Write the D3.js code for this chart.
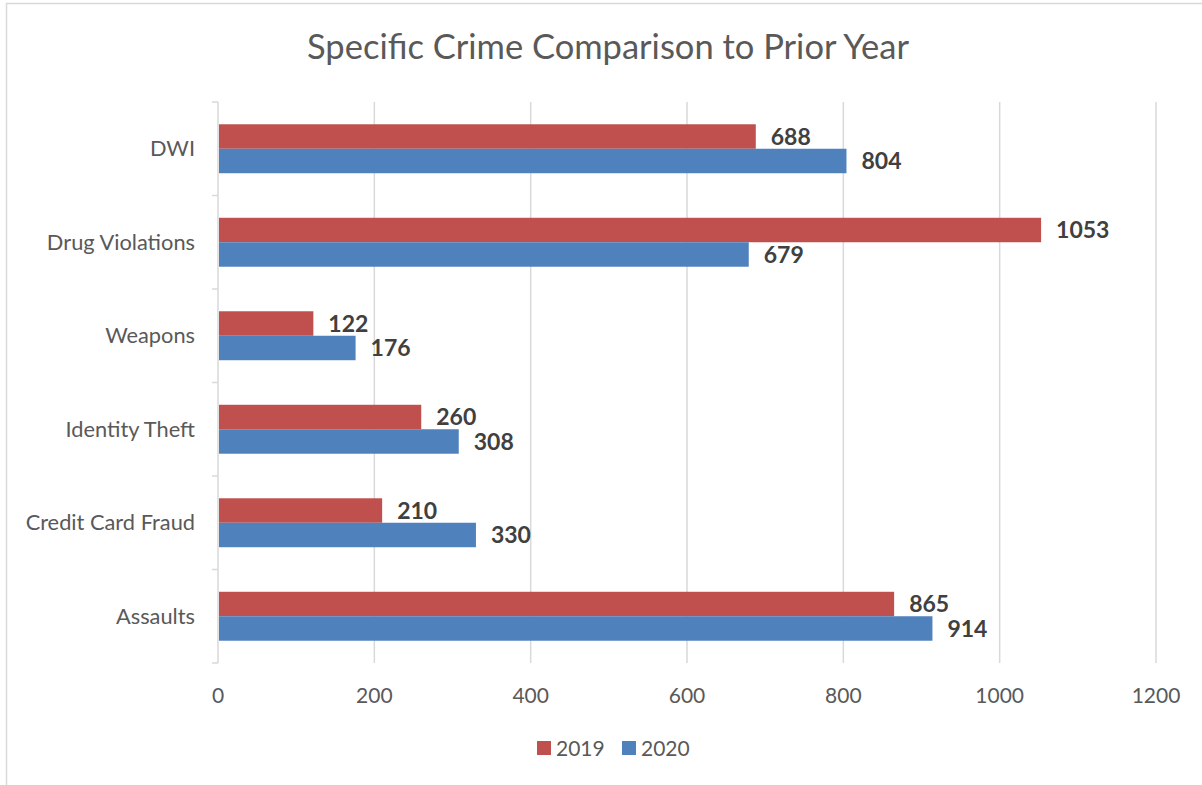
<!DOCTYPE html>
<html>
<head>
<meta charset="utf-8">
<script src="https://cdn.jsdelivr.net/npm/d3@7"></script>
<style>
  body { margin: 0; background: #fff; }
  svg text { font-family: Lato, "Open Sans", sans-serif; }
</style>
</head>
<body>
<div id="chart"></div>
<script>
/* Data */
var categories = ["DWI", "Drug Violations", "Weapons", "Identity Theft", "Credit Card Fraud", "Assaults"];
var series = ["2019", "2020"];
var values2019 = [688, 1053, 122, 260, 210, 865];
var values2020 = [804, 679, 176, 308, 330, 914];
var xTicks = [0, 200, 400, 600, 800, 1000, 1200];
var colors = ["#C0504D", "#4F81BD"];

var width = 1202, height = 785;
var plotLeft = 218, plotRight = 1156, plotTop = 102, plotBottom = 663;

var svg = d3.select("#chart").append("svg")
    .attr("width", width).attr("height", height);

// chart frame
svg.append("rect").attr("x", 6.5).attr("y", 3.5)
    .attr("width", width + 10).attr("height", height + 10)
    .attr("fill", "none").attr("stroke", "#d9d9d9").attr("stroke-width", 1.5);

svg.append("text").attr("x", 608).attr("y", 59)
    .attr("text-anchor", "middle").attr("fill", "#595959")
    .style("font-size", "34.5px").text("Specific Crime Comparison to Prior Year");

var x = d3.scaleLinear().domain([0, 1200]).range([plotLeft, plotRight]);
var y = d3.scaleBand().domain(categories).range([plotTop, plotBottom]).paddingInner(0).paddingOuter(0);
// Excel-style gap width (~91%)
var sub = d3.scaleBand().domain(series).range([0, y.bandwidth()]).paddingInner(0).paddingOuter(0.91);

// gridlines
svg.append("g").selectAll("line").data(xTicks.slice(1)).enter().append("line")
    .attr("x1", function(d) { return x(d); }).attr("x2", function(d) { return x(d); })
    .attr("y1", plotTop).attr("y2", plotBottom)
    .attr("stroke", "#d9d9d9").attr("stroke-width", 1.5);

// vertical axis + category ticks
svg.append("line").attr("x1", plotLeft).attr("x2", plotLeft).attr("y1", plotTop).attr("y2", plotBottom)
    .attr("stroke", "#d9d9d9").attr("stroke-width", 1.5);
var bounds = categories.map(function(c) { return y(c); }).concat([plotBottom]);
svg.append("g").selectAll("line").data(bounds).enter().append("line")
    .attr("x1", plotLeft - 6).attr("x2", plotLeft)
    .attr("y1", function(d) { return d; }).attr("y2", function(d) { return d; })
    .attr("stroke", "#d9d9d9").attr("stroke-width", 1.5);

// category labels
svg.append("g").selectAll("text").data(categories).enter().append("text")
    .attr("x", 195).attr("y", function(d) { return y(d) + y.bandwidth() / 2; })
    .attr("dy", "0.35em").attr("text-anchor", "end").attr("fill", "#595959")
    .style("font-size", "21.8px").text(function(d) { return d; });

// x tick labels
svg.append("g").selectAll("text").data(xTicks).enter().append("text")
    .attr("x", function(d) { return x(d); }).attr("y", 703)
    .attr("text-anchor", "middle").attr("fill", "#595959")
    .style("font-size", "21px").text(function(d) { return d; });

// bars
var rows = categories.map(function(c, i) {
    return { cat: c, vals: [values2019[i], values2020[i]] };
});
var groups = svg.append("g").selectAll("g").data(rows).enter().append("g")
    .attr("transform", function(d) { return "translate(0," + y(d.cat) + ")"; });

groups.selectAll("rect").data(function(d) { return d.vals; }).enter().append("rect")
    .attr("x", plotLeft + 1)
    .attr("y", function(d, i) { return sub(series[i]); })
    .attr("width", function(d) { return x(d) - plotLeft - 1; })
    .attr("height", sub.bandwidth())
    .attr("fill", function(d, i) { return colors[i]; });

groups.selectAll("text").data(function(d) { return d.vals; }).enter().append("text")
    .attr("x", function(d) { return x(d) + 15; })
    .attr("y", function(d, i) { return sub(series[i]) + sub.bandwidth() / 2; })
    .attr("dy", "0.36em").attr("fill", "#404040")
    .style("font-size", "23px").style("font-weight", "bold")
    .text(function(d) { return d; });

// legend
var legend = svg.append("g").selectAll("g").data(series).enter().append("g")
    .attr("transform", function(d, i) { return "translate(" + (537 + i * 85) + ",741)"; });
legend.append("rect").attr("width", 14).attr("height", 14)
    .attr("fill", function(d, i) { return colors[i]; });
legend.append("text").attr("x", 19).attr("y", 7).attr("dy", "0.36em")
    .attr("fill", "#595959").style("font-size", "21px").text(function(d) { return d; });
</script>
</body>
</html>
